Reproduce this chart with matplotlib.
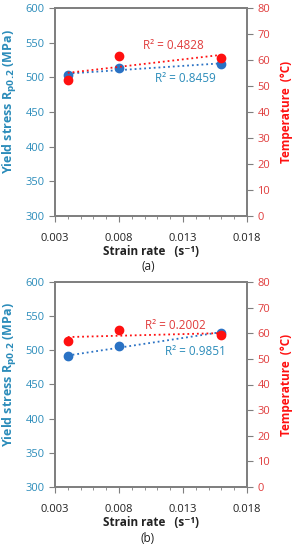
import matplotlib
import numpy as np

matplotlib.use("Agg")
import matplotlib.pyplot as plt
from matplotlib.ticker import MultipleLocator

plt.rcParams["font.family"] = ["Open Sans", "DejaVu Sans"]

STRAIN_RATE = [0.004, 0.008, 0.016]
YIELD_A = [503, 514, 519]
TEMP_A = [52.3, 61.5, 60.6]
YIELD_B = [491, 506, 526]
TEMP_B = [57.0, 61.3, 59.3]
R2_A = ("0.8459", "0.4828")
R2_B = ("0.9851", "0.2002")
PANEL_LABELS = ["(a)", "(b)"]

BLUE = "#2a72c4"
BLUE_TXT = "#2b8cba"
RED = "#ff1010"
RED_TXT = "#e03c3c"
GREY = "#7f7f7f"

fig = plt.figure(figsize=(2.96, 5.50), dpi=100, facecolor="white")


def panel(top_px, bot_px, yld, temp, r2, label, r2_pos):
    left, right = 55, 247
    ax = fig.add_axes([left / 296, 1 - bot_px / 550, (right - left) / 296, (bot_px - top_px) / 550])
    ax2 = ax.twinx()
    x = np.array(STRAIN_RATE)
    for a, y, c in ((ax, yld, BLUE), (ax2, temp, RED)):
        k, b = np.polyfit(x, y, 1)
        a.plot(x[[0, -1]], k * x[[0, -1]] + b, ":", color=c, lw=1.3, zorder=2)
        a.plot(x, y, "o", color=c, ms=6, zorder=3, clip_on=False)
    ax.set_xlim(0.003, 0.018)
    ax.set_ylim(300, 600)
    ax2.set_ylim(0, 80)
    ax.xaxis.set_minor_locator(MultipleLocator(0.001))
    ax.set_xticks([0.003, 0.008, 0.013, 0.018])
    ax.set_xticklabels(["0.003", "0.008", "0.013", "0.018"])
    ax.yaxis.set_major_locator(MultipleLocator(50))
    ax2.yaxis.set_major_locator(MultipleLocator(10))
    for a in (ax, ax2):
        for s in a.spines.values():
            s.set_color(GREY)
            s.set_linewidth(1.3)
    ax.tick_params(axis="x", which="major", length=4, color=GREY, labelsize=8, labelcolor="#222222", pad=8)
    ax.tick_params(axis="x", which="minor", length=2.5, color=GREY)
    ax.tick_params(axis="y", length=4, color=GREY, labelsize=8, labelcolor=BLUE_TXT)
    ax2.tick_params(axis="y", length=4, color=GREY, labelsize=8, labelcolor=RED_TXT)
    ax.set_xlabel("Strain rate   (s⁻¹)", fontsize=8.5, fontweight="bold", color="#222222", labelpad=1)
    ax.set_ylabel("Yield stress R$_{\\mathbf{p0.2}}$ (MPa)", fontsize=9, fontweight="bold", color=BLUE_TXT)
    ax.yaxis.set_label_coords(-0.19, 0.55)
    ax2.set_ylabel("Temperature  (°C)", fontsize=8.5, fontweight="bold", color=RED, labelpad=7)
    (bx, by), (rx, ry) = r2_pos
    ax.text(bx, by, "R² = " + r2[0], color=BLUE_TXT, fontsize=8.5, ha="left", va="center", transform=ax.transAxes)
    ax.text(rx, ry, "R² = " + r2[1], color=RED_TXT, fontsize=8.5, ha="left", va="center", transform=ax.transAxes)
    fig.text(0.5, 1 - (bot_px + 51) / 550, label, fontsize=8.5, ha="center", va="center", color="#222222")
    return ax


panel(8, 216, YIELD_A, TEMP_A, R2_A, PANEL_LABELS[0], ((0.52, 0.663), (0.458, 0.822)))
panel(282, 487, YIELD_B, TEMP_B, R2_B, PANEL_LABELS[1], ((0.573, 0.66), (0.47, 0.79)))

fig.savefig("out.png", dpi=100)
